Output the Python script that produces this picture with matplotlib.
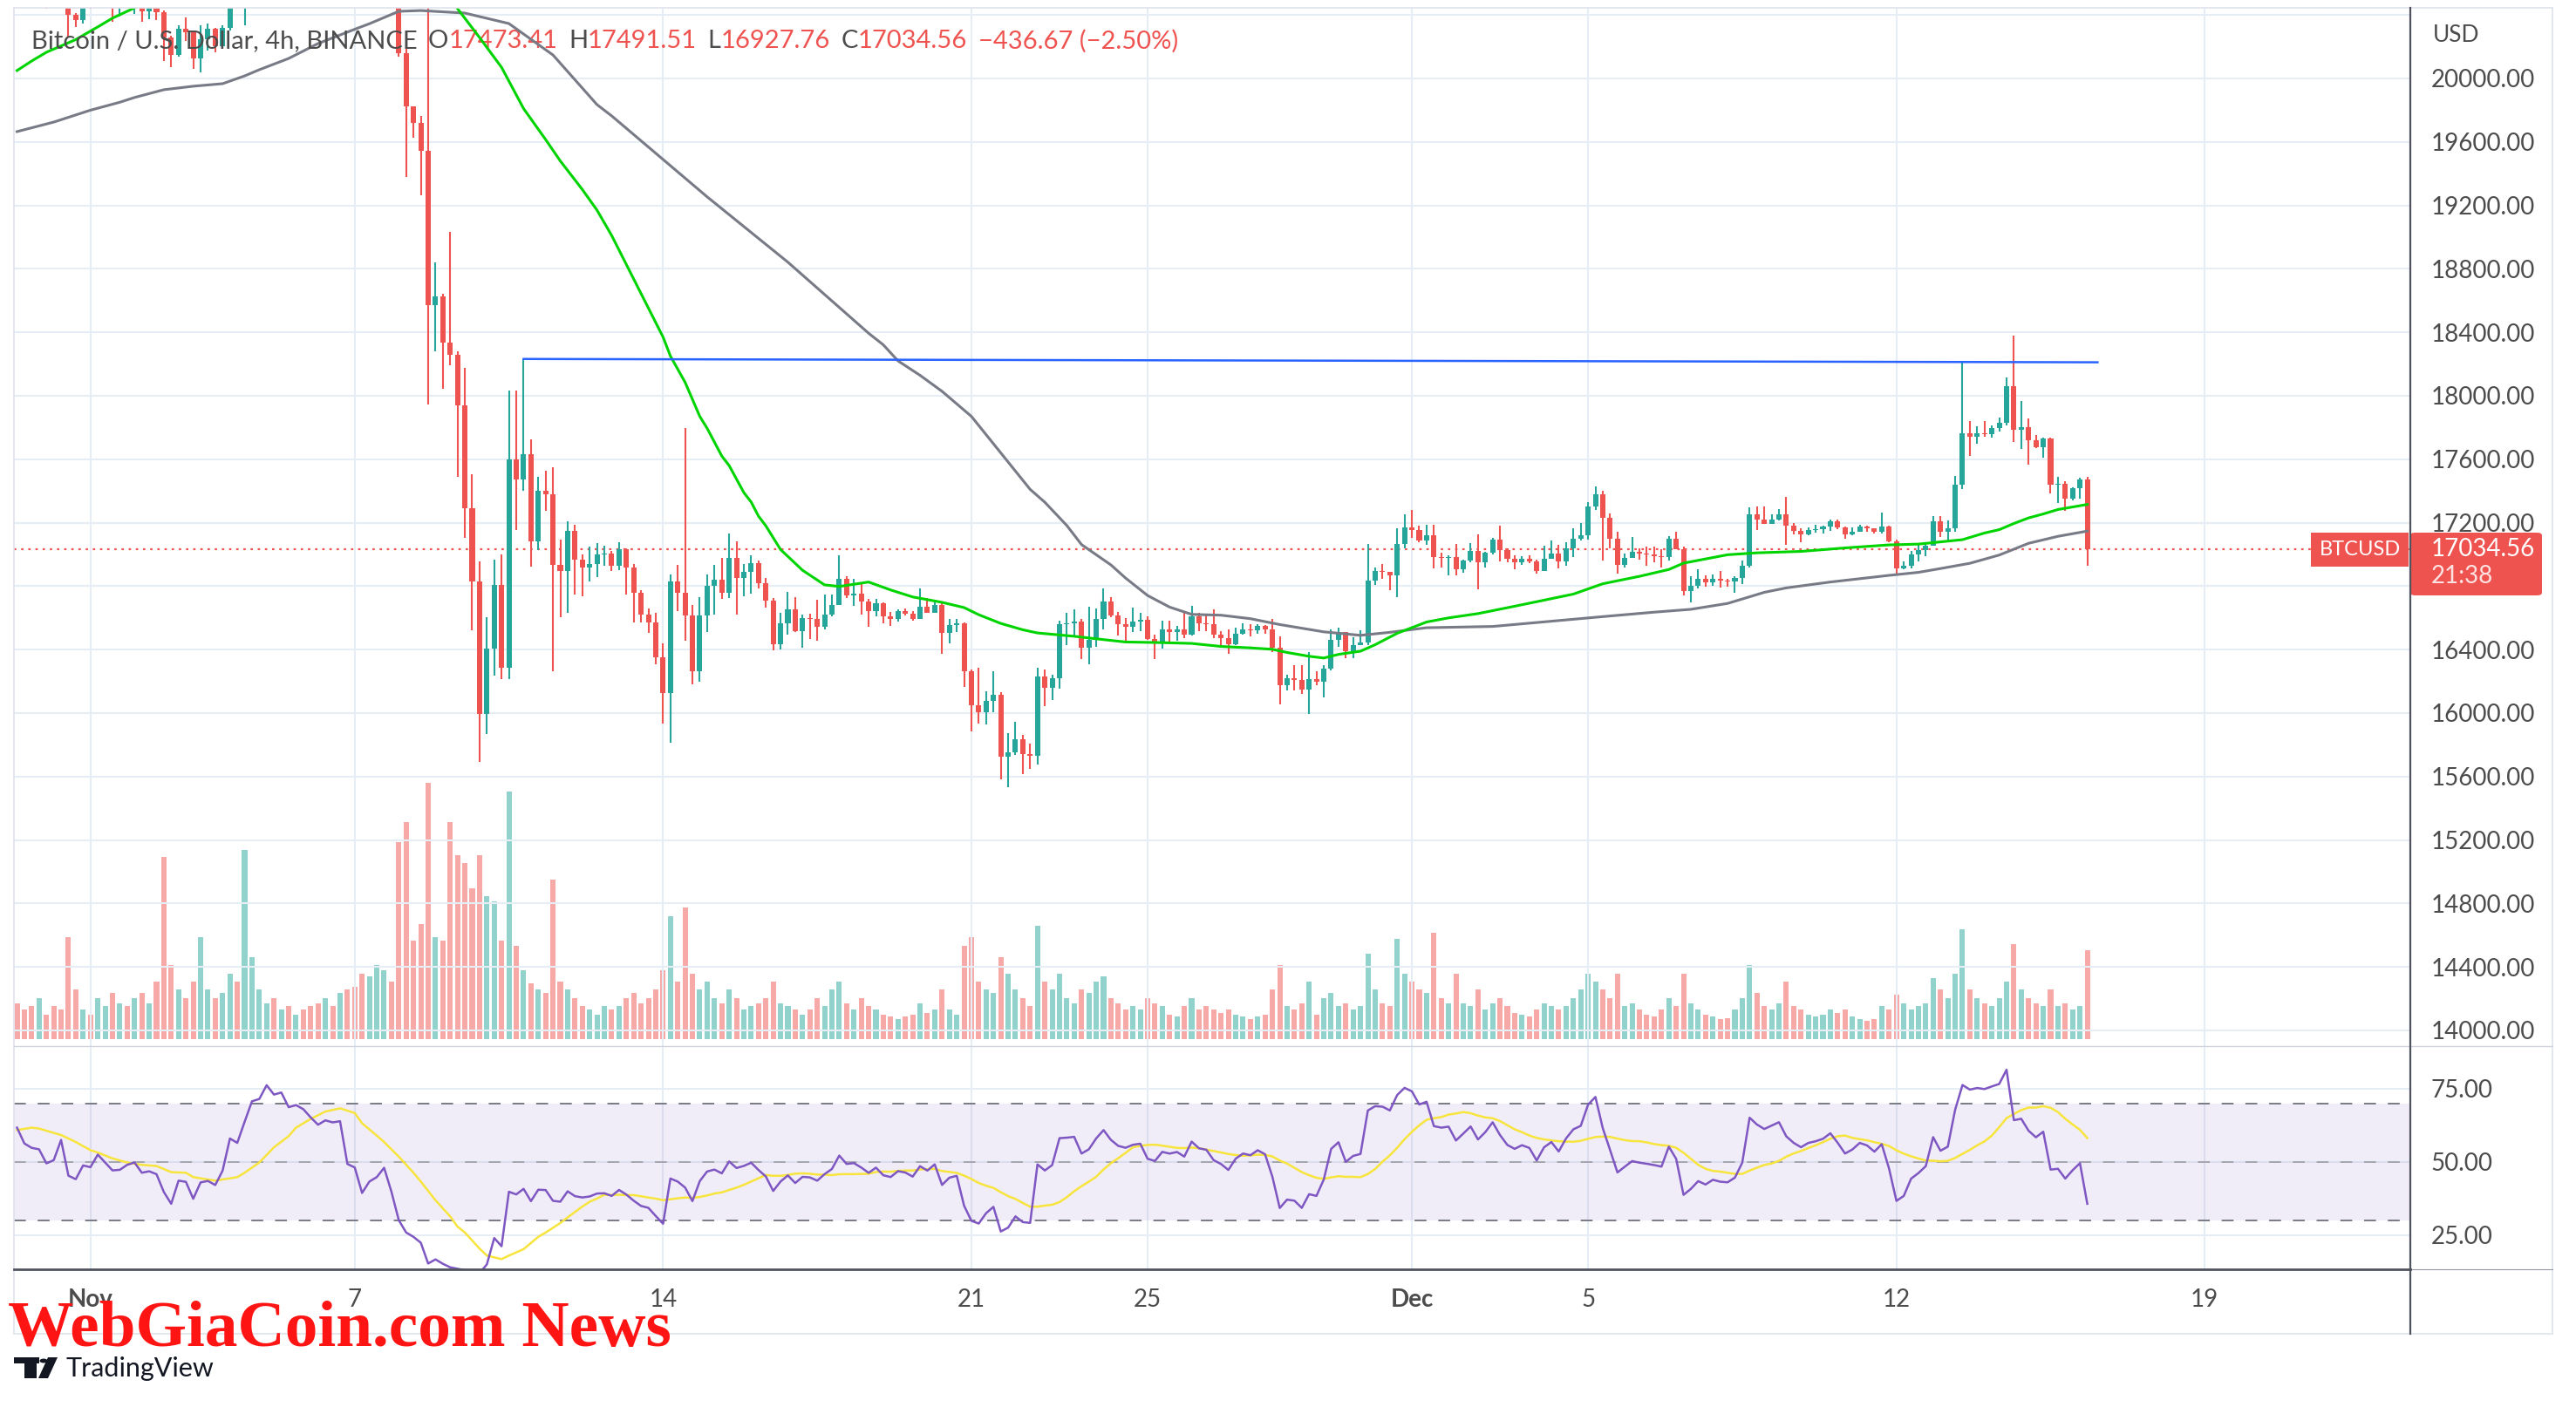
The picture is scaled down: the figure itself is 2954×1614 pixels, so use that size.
import numpy as np
import pandas as pd
import matplotlib
matplotlib.use("Agg")
import matplotlib.pyplot as plt
import matplotlib.dates as mdates
from matplotlib.patches import FancyBboxPatch, Rectangle, Polygon, Circle
from matplotlib.lines import Line2D

plt.rcParams['font.family'] = ['Lato', 'DejaVu Sans']

# ---------------- data (BTCUSD 4h, Binance) ----------------
start_time = '2022-10-30 08:00'
first_open = 20760

closes = [
    20700, 20650, 20600, 20640, 20560, 20520, 20480, 20400, 20370, 20460,
    20450, 20500, 20520, 20450, 20480, 20450, 20470, 20421, 20460, 20417,
    20256, 20146, 20311, 20290, 20128, 20247, 20311, 20205, 20318, 20470,
    20460, 20800, 21000, 21100, 21300, 21250, 21280, 21180, 21200, 21170,
    21120, 21070, 21110, 21100, 21110, 20850, 20830, 20600, 20680, 20720,
    20780, 20560, 20162, 19823, 19719, 19545, 18574, 18628, 18336, 18257,
    17937, 17292, 16830, 15995, 16406, 16808, 16286, 17599, 17472, 17631,
    17083, 17400, 17377, 16934, 16897, 17147, 16966, 16919, 16940, 16998,
    17003, 16930, 17031, 16915, 16760, 16623, 16573, 16354, 16125, 16829,
    16756, 16615, 16262, 16615, 16802, 16839, 16760, 16979, 16853, 16890,
    16943, 16820, 16707, 16432, 16564, 16652, 16518, 16601, 16592, 16542,
    16619, 16679, 16844, 16742, 16752, 16701, 16641, 16692, 16610, 16591,
    16641, 16628, 16591, 16670, 16634, 16679, 16504, 16555, 16568, 16266,
    16050, 16007, 16075, 16117, 15727, 15754, 15833, 15741, 15729, 16233,
    16160, 16218, 16558, 16565, 16576, 16411, 16461, 16595, 16705, 16617,
    16562, 16545, 16576, 16587, 16466, 16448, 16525, 16512, 16525, 16494,
    16609, 16567, 16558, 16494, 16470, 16433, 16499, 16530, 16521, 16549,
    16530, 16411, 16176, 16218, 16209, 16149, 16213, 16200, 16279, 16463,
    16511, 16391, 16431, 16444, 16837, 16893, 16890, 16870, 17064, 17173,
    17155, 17086, 17120, 16985, 16976, 16985, 16908, 16963, 17022, 16952,
    17009, 17092, 17025, 16970, 16948, 16972, 16958, 16893, 16970, 17003,
    16957, 17037, 17099, 17123, 17300, 17380, 17230, 17099, 16935, 16976,
    17016, 17005, 16998, 16990, 16981, 17099, 17031, 16767, 16802, 16848,
    16822, 16848, 16835, 16831, 16853, 16927, 17255, 17218, 17194, 17222,
    17250, 17181, 17148, 17126, 17152, 17162, 17176, 17207, 17170, 17126,
    17145, 17176, 17167, 17145, 17176, 17084, 16912, 16931, 17001, 17025,
    17055, 17206, 17143, 17166, 17442, 17765, 17741, 17765, 17760, 17796,
    17829, 18063, 17783, 17800, 17722, 17678, 17731, 17437, 17444, 17354,
    17418, 17473.41, 17034.56,
]

highs = [
    20800, 20740, 20700, 20690, 20660, 20600, 20560, 20500, 20410, 20500,
    20520, 20560, 20580, 20530, 20510, 20520, 20520, 20490, 20480, 20470,
    20430, 20270, 20333, 20384, 20295, 20333, 20348, 20320, 20333, 20550,
    20600, 20900, 21080, 21200, 21380, 21350, 21340, 21300, 21260, 21250,
    21200, 21150, 21180, 21160, 21170, 21120, 20920, 20850, 20740, 20780,
    20840, 20800, 20600, 20200, 19823, 19766, 20650, 18842, 18643, 19032,
    18279, 18175, 17504, 16957, 16602, 16966, 16998, 18032, 18032, 18232,
    17726, 17488, 17529, 17551, 17093, 17210, 17188, 16998, 17052, 17070,
    17053, 17021, 17076, 17040, 16939, 16774, 16659, 16632, 16440, 16875,
    16934, 17799, 16679, 16729, 16875, 16934, 16979, 17131, 17082, 16939,
    16994, 16961, 16851, 16725, 16634, 16762, 16732, 16619, 16628, 16714,
    16747, 16747, 16994, 16861, 16848, 16824, 16719, 16719, 16696, 16637,
    16656, 16659, 16641, 16787, 16725, 16707, 16701, 16591, 16591, 16573,
    16274, 16283, 16136, 16261, 16130, 15875, 15947, 15864, 15809, 16288,
    16274, 16240, 16585, 16631, 16653, 16595, 16668, 16662, 16784, 16729,
    16637, 16598, 16664, 16631, 16611, 16494, 16580, 16582, 16549, 16640,
    16673, 16631, 16622, 16653, 16516, 16525, 16536, 16567, 16558, 16558,
    16554, 16595, 16484, 16240, 16301, 16301, 16384, 16264, 16301, 16529,
    16538, 16511, 16477, 16523, 17068, 16920, 16939, 16883, 17166, 17250,
    17280, 17179, 17188, 17188, 17009, 16994, 17068, 16967, 17072, 17127,
    17018, 17105, 17179, 17040, 16994, 16989, 16994, 16967, 17055, 17086,
    17059, 17077, 17166, 17200, 17330, 17430, 17400, 17260, 17142, 17003,
    17108, 17037, 17050, 17050, 17031, 17114, 17143, 17048, 16863, 16909,
    16868, 16875, 16896, 16848, 16863, 16964, 17296, 17301, 17301, 17250,
    17283, 17360, 17199, 17163, 17172, 17185, 17180, 17222, 17222, 17174,
    17170, 17188, 17180, 17167, 17262, 17180, 17093, 16958, 17020, 17059,
    17064, 17239, 17239, 17212, 17494, 18216, 17838, 17807, 17838, 17815,
    17862, 18115, 18378, 17967, 17857, 17752, 17737, 17737, 17488, 17459,
    17424, 17483, 17491.51,
]

lows = [
    20620, 20600, 20540, 20560, 20440, 20480, 20460, 20263, 20326, 20345,
    20440, 20450, 20470, 20357, 20388, 20445, 20405, 20357, 20375, 20370,
    20110, 20073, 20137, 20238, 20059, 20040, 20174, 20165, 20200, 20300,
    20445, 20333, 20780, 21020, 21080, 21180, 21200, 21120, 21130, 21120,
    21060, 21020, 21040, 21050, 21060, 20820, 20760, 20520, 20560, 20640,
    20690, 20480, 20140, 19380, 19624, 19266, 17947, 18279, 18042, 18194,
    17488, 17102, 16523, 15691, 15868, 16238, 16216, 16216, 17156, 17400,
    16925, 17029, 17273, 16261, 16602, 16634, 16745, 16735, 16830, 16855,
    16930, 16893, 16903, 16747, 16573, 16570, 16504, 16308, 15936, 15814,
    16641, 16458, 16183, 16198, 16513, 16619, 16720, 16723, 16623, 16738,
    16751, 16787, 16665, 16394, 16403, 16496, 16509, 16412, 16469, 16454,
    16528, 16610, 16679, 16725, 16677, 16619, 16542, 16610, 16568, 16550,
    16579, 16615, 16582, 16591, 16630, 16634, 16372, 16440, 16509, 16165,
    15884, 15934, 15928, 16007, 15582, 15534, 15736, 15617, 15650, 15677,
    16044, 16084, 16154, 16429, 16481, 16338, 16310, 16420, 16525, 16604,
    16490, 16457, 16512, 16516, 16462, 16341, 16407, 16444, 16457, 16475,
    16490, 16516, 16517, 16475, 16411, 16375, 16429, 16497, 16481, 16499,
    16499, 16384, 16053, 16141, 16145, 16121, 15993, 16176, 16099, 16271,
    16418, 16348, 16348, 16427, 16431, 16810, 16847, 16773, 16730, 17040,
    17105, 17077, 17063, 16911, 16920, 16870, 16870, 16887, 16948, 16782,
    16915, 16998, 16954, 16948, 16906, 16935, 16944, 16880, 16893, 16970,
    16911, 16930, 16985, 17086, 17092, 17280, 16963, 17040, 16880, 16920,
    16980, 16966, 16930, 16952, 16920, 16963, 17031, 16739, 16697, 16786,
    16794, 16801, 16789, 16795, 16757, 16813, 16918, 17152, 17190, 17194,
    17213, 17060, 17126, 17078, 17120, 17139, 17130, 17148, 17157, 17097,
    17121, 17145, 17143, 17130, 17134, 17075, 16875, 16909, 16913, 16954,
    16991, 17055, 17110, 17083, 17143, 17414, 17623, 17697, 17741, 17737,
    17777, 17814, 17706, 17667, 17567, 17672, 17608, 17387, 17326, 17276,
    17341, 17350, 16927.76,
]

volumes = [
    22, 18, 20, 25, 15, 20, 18, 62, 30, 18,
    15, 25, 20, 28, 22, 20, 25, 28, 22, 35,
    111, 45, 30, 25, 35, 62, 30, 25, 28, 40,
    35, 115, 50, 30, 22, 25, 18, 20, 15, 18,
    20, 22, 25, 20, 28, 30, 32, 40, 38, 45,
    42, 35, 120, 132, 60, 70, 156, 62, 60, 132,
    112, 107, 92, 112, 87, 84, 60, 151, 57, 42,
    34, 30, 28, 97, 35, 30, 25, 20, 18, 15,
    20, 18, 20, 25, 28, 22, 25, 30, 42, 75,
    35, 80, 40, 30, 35, 25, 22, 30, 25, 18,
    20, 22, 25, 35, 22, 20, 18, 15, 18, 25,
    20, 30, 35, 22, 18, 25, 20, 18, 15, 14,
    12, 14, 15, 22, 16, 18, 30, 18, 15, 57,
    62, 35, 30, 28, 50, 40, 30, 25, 20, 69,
    35, 30, 40, 25, 22, 30, 28, 35, 38, 25,
    22, 18, 20, 18, 25, 22, 20, 15, 14, 20,
    25, 18, 20, 18, 16, 18, 15, 14, 12, 14,
    15, 30, 45, 20, 18, 22, 35, 15, 25, 28,
    20, 22, 18, 20, 52, 30, 22, 20, 61, 40,
    35, 30, 28, 65, 25, 22, 40, 22, 20, 30,
    18, 22, 25, 20, 16, 15, 14, 18, 22, 20,
    18, 20, 25, 30, 40, 35, 30, 25, 40, 20,
    22, 18, 15, 14, 18, 25, 20, 40, 22, 18,
    15, 14, 12, 13, 18, 25, 45, 28, 20, 18,
    22, 35, 20, 18, 15, 14, 15, 18, 16, 18,
    14, 12, 11, 12, 20, 18, 27, 22, 18, 20,
    22, 37, 30, 25, 40, 67, 30, 25, 22, 20,
    25, 35, 58, 30, 25, 22, 20, 30, 20, 22,
    18, 20, 54,
]

rsi_read = [
    61.7, 56.3, 54.8, 54.3, 49.5, 50.6, 57.5, 45.3, 44.1, 48.8,
    48.2, 52.5, 49.8, 47.1, 47.3, 49.0, 49.8, 46.3, 46.8, 45.8,
    39.7, 35.7, 43.6, 43.2, 37.4, 43.0, 43.5, 42.1, 47.0, 58.0,
    56.5, 63.7, 70.7, 71.5, 76.2, 73.0, 73.7, 68.7, 69.4, 68.0,
    65.2, 62.7, 64.2, 63.5, 63.9, 49.3, 48.1, 39.4, 43.3, 44.8,
    48.0, 39.8, 30.1, 25.9, 24.4, 22.4, 15.3, 16.7, 15.2, 14.0,
    13.5, 13.0, 12.5, 12.0, 15.0, 24.0, 21.2, 39.8, 38.9, 40.8,
    36.6, 40.5,
]
rsi_ma_idx = [0, 2, 3, 5, 6, 8, 10, 11, 13, 15, 17, 19, 21, 23, 24, 27, 30, 31,
              33, 35, 37, 38, 40, 42, 44, 46, 47, 49, 50, 52, 54, 55, 57, 59, 60,
              61, 63, 64, 66, 67, 69, 71]
rsi_ma_val = [60.9, 61.7, 61.4, 59.9, 59.2, 56.8, 54.0, 53.2, 51.2, 49.8, 49.0,
              48.6, 46.5, 46.3, 44.8, 43.6, 44.8, 46.3, 49.8, 55.0, 58.8, 61.7,
              64.7, 67.2, 68.3, 66.7, 63.2, 59.0, 56.8, 51.8, 46.3, 43.3, 36.9,
              31.4, 27.9, 25.9, 20.4, 18.0, 16.8, 18.0, 20.2, 24.4]

# moving averages (fast green, slow gray) read at sample candles
ma_fast_idx = [0, 2, 4, 8, 11, 13, 16, 25, 35, 45, 52, 56, 60, 63, 66, 69, 72, 74,
               77, 79, 81, 88, 89, 91, 93, 94, 96, 97, 99, 100, 101, 102, 104, 107,
               110, 112, 116, 119, 122, 126, 129, 131, 134, 137, 139, 144, 148, 151,
               156, 160, 164, 168, 171, 173, 176, 178, 180, 183, 185, 188, 192, 195,
               199, 203, 207, 212, 216, 221, 225, 227, 233, 237, 243, 249, 255, 259,
               265, 268, 270, 272, 274, 276, 278, 282]
ma_fast_val = [20050, 20110, 20165, 20245, 20325, 20380, 20445, 20640, 20800, 20900,
               20880, 20720, 20440, 20258, 20070, 19810, 19615, 19480, 19300, 19170,
               19010, 18370, 18250, 18085, 17870, 17795, 17620, 17560, 17390, 17330,
               17241, 17180, 17031, 16900, 16808, 16798, 16826, 16776, 16732, 16698,
               16665, 16620, 16565, 16525, 16505, 16484, 16463, 16448, 16444, 16439,
               16420, 16411, 16402, 16382, 16358, 16347, 16370, 16390, 16431, 16503,
               16574, 16600, 16627, 16664, 16702, 16750, 16815, 16862, 16905, 16945,
               16998, 17010, 17019, 17041, 17060, 17065, 17093, 17135, 17156, 17195,
               17230, 17255, 17283, 17315]
ma_slow_idx = [0, 5, 10, 14, 16, 20, 24, 28, 31, 33, 37, 41, 46, 48, 52, 55, 61, 67,
               73, 79, 81, 94, 105, 116, 118, 120, 123, 126, 130, 138, 140, 143, 145,
               149, 151, 154, 157, 160, 164, 168, 172, 178, 183, 187, 192, 201, 209,
               217, 223, 228, 233, 238, 241, 247, 255, 259, 262, 266, 270, 274, 278, 282]
ma_slow_val = [19665, 19725, 19800, 19850, 19880, 19929, 19951, 19967, 20016, 20055,
               20126, 20220, 20310, 20345, 20423, 20428, 20412, 20346, 20148, 19835,
               19764, 19254, 18842, 18394, 18321, 18220, 18129, 18028, 17870, 17410,
               17329, 17182, 17062, 16934, 16851, 16741, 16668, 16622, 16617, 16595,
               16558, 16512, 16490, 16509, 16538, 16546, 16579, 16612, 16636, 16654,
               16691, 16761, 16789, 16826, 16868, 16887, 16911, 16944, 16996, 17070,
               17114, 17147]

# resistance line drawn on the chart
trend_idx = [69, 283.4]
trend_val = [18232, 18211]

last_price = 17034.56
price_ticks = list(range(14000, 20401, 400))
day_ticks = ['2022-11-01', '2022-11-07', '2022-11-14', '2022-11-21', '2022-11-25',
             '2022-12-01', '2022-12-05', '2022-12-12', '2022-12-19']
day_labels = ['Nov', '7', '14', '21', '25', 'Dec', '5', '12', '19']

# ---------------- figure ----------------
W, H = 2954, 1614
fig = plt.figure(figsize=(W / 100, H / 100), dpi=100)
fig.patch.set_facecolor('white')


def fx(p):
    return p / W


def fy(p):
    return 1 - p / H


TEAL, RED = '#26A69A', '#EF5350'
GRID = '#E6EDF4'
TXT = '#4C4C4C'
DARK = '#50535E'

n = len(closes)
c = np.array(closes, float)
h = np.array(highs, float)
l = np.array(lows, float)
o = np.r_[first_open, c[:-1]]
up = c >= o

times = pd.date_range(start_time, periods=n, freq='4h')
xs = mdates.date2num(times)
step = 4 / 24


def idx2x(i):
    return xs[0] + np.asarray(i, float) * step


# RSI(14, Wilder) from the closes carries on after the read part,
# its yellow line is the 14-bar mean of the RSI
d = np.diff(c, prepend=c[0])
au = pd.Series(np.clip(d, 0, None)).ewm(alpha=1 / 14, adjust=False).mean()
ad = pd.Series(np.clip(-d, 0, None)).ewm(alpha=1 / 14, adjust=False).mean()
rsi_calc = (100 - 100 / (1 + au / ad)).values
rsi = np.r_[rsi_read, rsi_calc[len(rsi_read):]]
rsi_ma_tail = pd.Series(rsi).rolling(14).mean().values
ma_idx = np.r_[rsi_ma_idx, np.arange(72, n)]
ma_val = np.r_[rsi_ma_val, rsi_ma_tail[72:]]

L0, R0 = 16, 2764
ax_vol = fig.add_axes([fx(L0), fy(1192), fx(R0 - L0), (1192 - 9) / H])
ax = fig.add_axes([fx(L0), fy(1200), fx(R0 - L0), (1200 - 9) / H], sharex=ax_vol)
ax.patch.set_visible(False)
ax_rsi = fig.add_axes([fx(L0), fy(1456), fx(R0 - L0), 256 / H], sharex=ax_vol)

# volume
ax_vol.bar(xs, volumes, width=step * 0.72, color=np.where(up, '#92D2CC', '#F7A9A8'), lw=0)
ax_vol.set_ylim(0, 628)
ax_vol.axis('off')

# candles
cols = np.where(up, TEAL, RED)
ax.vlines(xs, l, h, colors=cols, lw=1.5, zorder=3)
ax.bar(xs, np.maximum(np.abs(c - o), 5), bottom=np.minimum(o, c), width=step * 0.72,
       color=cols, lw=0, zorder=4)

ax.plot(idx2x(ma_slow_idx), ma_slow_val, color='#787B86', lw=2.2, zorder=5)
ax.plot(idx2x(ma_fast_idx), ma_fast_val, color='#00D400', lw=2.2, zorder=5)
ax.plot(idx2x(trend_idx), trend_val, color='#2962FF', lw=1.8, zorder=6)
ax.axhline(last_price, color=RED, lw=1.6, dashes=(1.2, 2.5), zorder=2)

ax.set_xlim(idx2x(-0.42), idx2x(326.0))
ax.set_ylim(13901, 20445)
ax.set_yticks(price_ticks)
# 20400 sits under the USD caption and 16800 under the last-price tag
ax.set_yticklabels(['' if v in (16800, 20400) else f'{v:.2f}' for v in price_ticks])
ax.yaxis.tick_right()
ax.tick_params(axis='y', length=0, pad=17, labelsize=20, labelcolor=TXT)
ax.tick_params(axis='x', length=0, labelbottom=False)
ax.grid(True, color=GRID, lw=1.5)
ax.set_axisbelow(True)
for s in ax.spines.values():
    s.set_visible(False)

# RSI pane
ax_rsi.set_ylim(13.33, 89.56)
ax_rsi.axhspan(30, 70, color='#7E57C2', alpha=0.1, lw=0)
for lvl, col in [(70, '#787B86'), (50, '#A3A6AF'), (30, '#787B86')]:
    ax_rsi.axhline(lvl, color=col, lw=1.4, dashes=(7, 7))
ax_rsi.plot(xs, rsi, color='#7E57C2', lw=1.8, zorder=4)
ax_rsi.plot(idx2x(ma_idx), ma_val, color='#F7E43C', lw=1.8, zorder=3)
ax_rsi.set_yticks([25, 50, 75])
ax_rsi.set_yticklabels(['25.00', '50.00', '75.00'])
ax_rsi.yaxis.tick_right()
ax_rsi.tick_params(axis='y', length=0, pad=17, labelsize=20, labelcolor=TXT)
ax_rsi.set_xticks(mdates.date2num(pd.to_datetime(day_ticks)))
ax_rsi.set_xticklabels(day_labels)
ax_rsi.tick_params(axis='x', length=0, pad=16, labelsize=20, labelcolor=TXT)
for t in ax_rsi.get_xticklabels():
    if t.get_text() in ('Nov', 'Dec'):
        t.set_fontweight('bold')
ax_rsi.grid(True, color=GRID, lw=1.5)
ax_rsi.set_axisbelow(True)
for s in ax_rsi.spines.values():
    s.set_visible(False)


# frame and separators
def fline(xa, ya, xb, yb, color, lw):
    fig.add_artist(Line2D([fx(xa), fx(xb)], [fy(ya), fy(yb)], color=color, lw=lw))


fline(16, 9, 2927, 9, '#E0E3EB', 1.2)
fline(16, 9, 16, 1530, '#E0E3EB', 1.2)
fline(2927, 9, 2927, 1530, '#E0E3EB', 1.2)
fline(16, 1530, 2927, 1530, '#E0E3EB', 1.2)
fline(16, 1200, 2927, 1200, '#D1D4DC', 1.0)
fline(2764, 1456, 2927, 1456, '#9598A1', 0.8)
fline(16, 1456, 2764, 1456, DARK, 2.0)
fline(2764, 9, 2764, 1530, DARK, 1.6)

# price tags on the scale
fig.add_artist(FancyBboxPatch((fx(2764), fy(683)), fx(151), (683 - 611) / H,
                              boxstyle='round,pad=0,rounding_size=0.002',
                              transform=fig.transFigure, fc=RED, ec='none'))
fig.add_artist(Rectangle((fx(2650), fy(650)), fx(112), 39 / H,
                         transform=fig.transFigure, fc=RED, ec='none'))
fig.text(fx(2706), fy(631), 'BTCUSD', color='white', fontsize=17, ha='center', va='center')
fig.text(fx(2788), fy(630), f'{last_price:.2f}', color='white', fontsize=20, va='center')
fig.text(fx(2788), fy(661), '21:38', color='#FDE2E2', fontsize=20, va='center')
fig.text(fx(2790), fy(41), 'USD', color=TXT, fontsize=19, va='center')

# legend line
parts = [('Bitcoin / U.S. Dollar, 4h, BINANCE', TXT, 0), ('O', TXT, 9), ('17473.41', RED, 0),
         ('H', TXT, 9), ('17491.51', RED, 0), ('L', TXT, 9), ('16927.76', RED, 0),
         ('C', TXT, 9), ('17034.56', RED, 0), ('\u2212436.67 (\u22122.50%)', RED, 9)]
prev = fig.text(fx(36), fy(47), parts[0][0], color=parts[0][1], fontsize=21, va='center')
for s, col, gap in parts[1:]:
    prev = ax.annotate(s, xy=(1, 0.5), xycoords=prev, xytext=(gap, 0),
                       textcoords='offset points', va='center', ha='left',
                       color=col, fontsize=21, annotation_clip=False)

# watermark and logo
wm = fig.text(fx(9), fy(1544), 'WebGiaCoin.com News', color='#FF1414', fontsize=54,
              fontweight='bold', family=['Liberation Serif', 'DejaVu Serif'],
              ha='left', va='baseline', zorder=10)
fig.canvas.draw()
bw = wm.get_window_extent().width
wm.set_fontsize(54 * 761 / bw)

LOGO = '#131722'
fig.add_artist(Rectangle((fx(16), fy(1564)), fx(29), 7 / H, transform=fig.transFigure, fc=LOGO, ec='none'))
fig.add_artist(Rectangle((fx(28), fy(1581)), fx(14), 24 / H, transform=fig.transFigure, fc=LOGO, ec='none'))
fig.add_artist(Polygon([(fx(55), fy(1557)), (fx(66), fy(1557)), (fx(55), fy(1581)), (fx(44), fy(1581))],
                       transform=fig.transFigure, fc=LOGO, ec='none'))
fig.add_artist(Circle((fx(50), fy(1561)), 4.5 / W, transform=fig.transFigure, fc=LOGO, ec='none'))
fig.text(fx(75), fy(1570), 'TradingView', color=LOGO, fontsize=22, va='center')

fig.savefig('out.png', dpi=100, facecolor='white')
